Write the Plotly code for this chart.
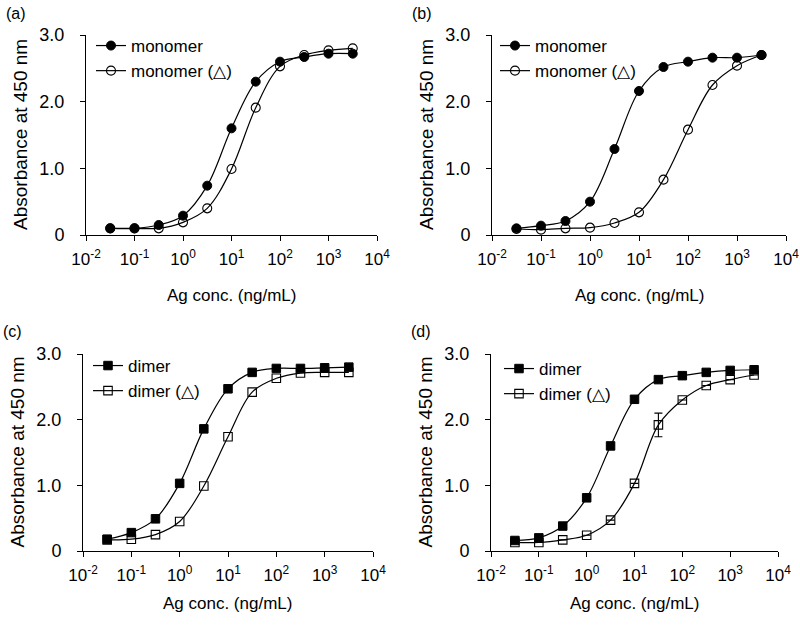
import plotly.graph_objects as go

# ---------------- data ----------------
conc = [0.0316, 0.1, 0.316, 1, 3.16, 10, 31.6, 100, 316, 1000, 3162]

a_monomer = [0.10, 0.10, 0.15, 0.29, 0.74, 1.60, 2.30, 2.60, 2.67, 2.72, 2.72]
a_monomer_d = [0.10, 0.10, 0.10, 0.19, 0.40, 0.99, 1.91, 2.53, 2.70, 2.77, 2.80]

b_monomer = [0.10, 0.14, 0.21, 0.50, 1.29, 2.16, 2.52, 2.60, 2.66, 2.66, 2.70]
b_monomer_d = [0.09, 0.08, 0.10, 0.11, 0.18, 0.34, 0.83, 1.58, 2.25, 2.54, 2.70]

c_dimer = [0.18, 0.28, 0.49, 1.03, 1.86, 2.47, 2.72, 2.78, 2.78, 2.79, 2.80]
c_dimer_d = [0.17, 0.18, 0.25, 0.45, 0.99, 1.74, 2.42, 2.63, 2.71, 2.72, 2.72]

d_dimer = [0.16, 0.20, 0.38, 0.81, 1.60, 2.31, 2.61, 2.67, 2.72, 2.75, 2.76]
d_dimer_d = [0.13, 0.13, 0.17, 0.24, 0.47, 1.03, 1.92, 2.30, 2.52, 2.61, 2.68]
d_dimer_d_err = [0, 0, 0, 0, 0, 0, 0.18, 0, 0, 0, 0]

x_tickvals = [0.01, 0.1, 1, 10, 100, 1000, 10000]
x_ticktext = ["10<sup>-2</sup>", "10<sup>-1</sup>", "10<sup>0</sup>", "10<sup>1</sup>",
              "10<sup>2</sup>", "10<sup>3</sup>", "10<sup>4</sup>"]
y_tickvals = [0, 1, 2, 3]
y_ticktext = ["0", "1.0", "2.0", "3.0"]

panel_labels = ["(a)", "(b)", "(c)", "(d)"]
x_title = "Ag conc. (ng/mL)"
y_title = "Absorbance at 450 nm"

FONT = "Liberation Sans, Arial, sans-serif"
W, H = 800, 627

# panel geometry in pixels: (left, right, top, bottom)
panels = [
    (86, 377, 35, 235),
    (492, 786, 35, 235),
    (83, 373, 354, 551),
    (491, 778, 354, 551),
]
title_offsets = [60, 60, 52, 52]

series = [
    (a_monomer, a_monomer_d, "monomer", "monomer (△)", "circle", None),
    (b_monomer, b_monomer_d, "monomer", "monomer (△)", "circle", None),
    (c_dimer, c_dimer_d, "dimer", "dimer (△)", "square", None),
    (d_dimer, d_dimer_d, "dimer", "dimer (△)", "square", d_dimer_d_err),
]

legend_pos = [(91, 28), (495, 28), (88, 348), (499, 351)]

fig = go.Figure()
layout = dict(
    template="none",
    width=W, height=H,
    margin=dict(l=0, r=0, t=0, b=0, autoexpand=False),
    paper_bgcolor="white", plot_bgcolor="white",
    font=dict(family=FONT, color="black", size=17),
    showlegend=True,
)
annotations = []

for i, ((l, r, t, b), (filled, opened, n1, n2, sym, err), (lx, ly), toff) in enumerate(
        zip(panels, series, legend_pos, title_offsets)):
    k = "" if i == 0 else str(i + 1)
    xa, ya = "x" + k, "y" + k
    lg = "legend" + k
    msize = 9 if sym == "circle" else 8.5
    fig.add_trace(go.Scatter(
        x=conc, y=filled, name=n1, mode="lines+markers",
        xaxis=xa, yaxis=ya, legend=lg,
        line=dict(color="black", width=1.2, shape="spline", smoothing=1.0),
        marker=dict(symbol=sym, size=msize, color="black",
                    line=dict(color="black", width=1)),
    ))
    tr = dict(
        x=conc, y=opened, name=n2, mode="lines+markers",
        xaxis=xa, yaxis=ya, legend=lg,
        line=dict(color="black", width=1.2, shape="spline", smoothing=1.0),
        marker=dict(symbol=sym + "-open", size=msize, color="black",
                    line=dict(color="black", width=1.1)),
    )
    if err is not None:
        tr["error_y"] = dict(type="data", array=err, visible=True,
                             color="black", thickness=1.1, width=4)
    fig.add_trace(go.Scatter(**tr))

    layout["xaxis" + k] = dict(
        type="log", range=[-2, 4], domain=[l / W, r / W], anchor=ya,
        tickvals=x_tickvals, ticktext=x_ticktext, automargin=False,
        showline=True, linecolor="black", linewidth=1,
        ticks="outside", ticklen=5, tickwidth=1, tickcolor="black",
        showgrid=False, zeroline=False, ticklabelstandoff=4,
        ticklabeloverflow="allow",
        tickfont=dict(size=17, family=FONT),
    )
    layout["yaxis" + k] = dict(
        range=[0, 3], domain=[1 - b / H, 1 - t / H], anchor=xa,
        tickvals=y_tickvals, ticktext=y_ticktext, automargin=False,
        showline=True, linecolor="black", linewidth=1,
        ticks="outside", ticklen=5, tickwidth=1, tickcolor="black",
        showgrid=False, zeroline=False, ticklabelstandoff=12,
        ticklabeloverflow="allow",
        tickfont=dict(size=18, family=FONT),
    )
    layout[lg] = dict(
        x=lx / W, y=1 - ly / H, xanchor="left", yanchor="top",
        bgcolor="rgba(0,0,0,0)", borderwidth=0,
        font=dict(size=17, family=FONT), itemwidth=30,
        tracegroupgap=0,
    )
    # axis titles and panel label
    annotations.append(dict(
        text=x_title, x=(l + r) / 2 / W, y=1 - (b + toff) / H,
        xref="paper", yref="paper", showarrow=False,
        xanchor="center", yanchor="middle", font=dict(size=17, family=FONT),
    ))
    annotations.append(dict(
        text=y_title, x=(l - 66) / W, y=1 - (t + b) / 2 / H,
        xref="paper", yref="paper", showarrow=False, textangle=-90,
        xanchor="center", yanchor="middle", font=dict(size=19, family=FONT),
    ))
    annotations.append(dict(
        text=panel_labels[i], x=(l - 82) / W, y=1 - (t - 22) / H,
        xref="paper", yref="paper", showarrow=False,
        xanchor="left", yanchor="middle", font=dict(size=16, family=FONT),
    ))

layout["annotations"] = annotations
fig.update_layout(**layout)
fig.write_html(
    "out.html",
    config={"displayModeBar": False},
    post_script="document.body.style.margin='0';document.body.style.overflow='hidden';",
)
